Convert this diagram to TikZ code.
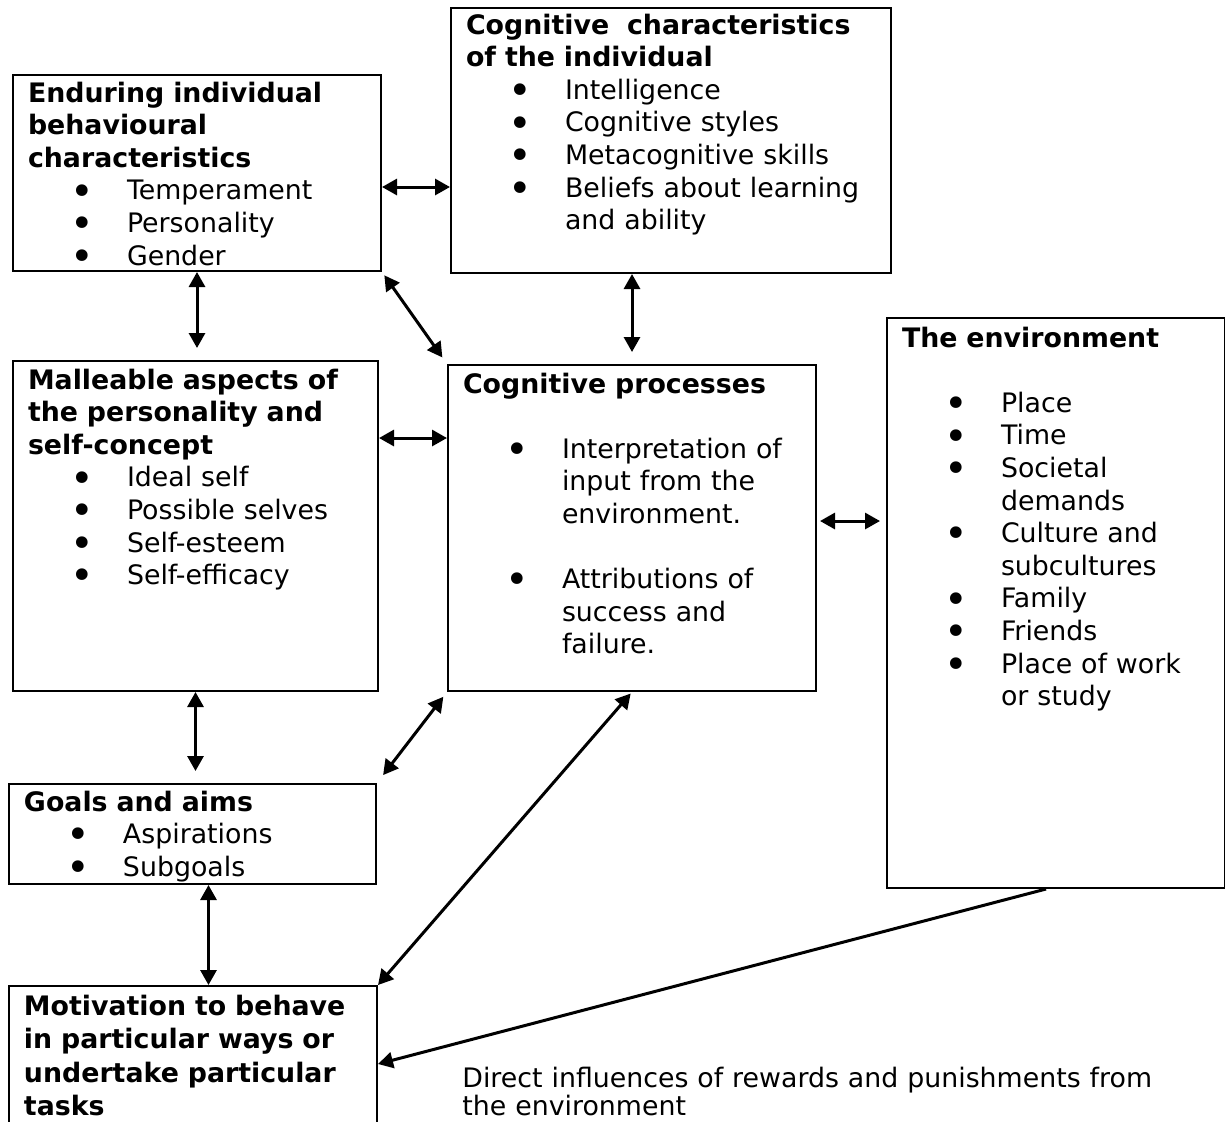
\documentclass[tikz,border=0pt]{standalone}
\usepackage{fontspec}
\setmainfont{DejaVu Sans}
\usetikzlibrary{arrows.meta}

\newcommand{\bul}[1]{\par\hangindent=49.5pt\hangafter=1\noindent\hspace*{21pt}%
  \makebox[28.5pt][l]{\raisebox{-2.6pt}{\fontsize{20}{20}\selectfont\textbullet}}#1\par}
\newcommand{\gap}{\par\vspace{\baselineskip}}

\tikzset{
  box/.style={draw, line width=1pt, anchor=north west, inner xsep=7.5pt, inner ysep=0pt,
    align=left, font=\fontsize{13.4}{16.3}\selectfont},
  link/.style={<->, line width=1.5pt},
}

\begin{document}
\begin{tikzpicture}[x=0.5pt, y=-0.5pt, >={Triangle[length=7.5pt,width=8pt]}]
\useasboundingbox (0,0) rectangle (1225,1121);

% left column
\node[box, text width=169pt, text height=13.5pt, text depth=84.5pt] (endur) at (12,74)
  {\textbf{Enduring individual\\behavioural\\characteristics}
   \bul{Temperament}
   \bul{Personality}
   \bul{Gender}};

\node[box, text width=167.5pt, text height=14pt, text depth=151pt] (malle) at (12,360)
  {\textbf{Malleable aspects of\\the personality and\\self-concept}
   \bul{Ideal self}
   \bul{Possible selves}
   \bul{Self-esteem}
   \bul{Self-efficacy}};

\node[box, text width=168.5pt, text height=13.5pt, text depth=36.5pt] (goals) at (8,783)
  {\textbf{Goals and aims}
   \bul{Aspirations}
   \bul{Subgoals}};

\node[box, text width=169pt, text height=14.5pt, text depth=55.5pt,
  font=\fontsize{13.4}{16.8}\selectfont] (motiv) at (8,985)
  {\textbf{Motivation to behave\\in particular ways or\\undertake particular\\tasks}};

% middle column
\node[box, text width=205pt, text height=13pt, text depth=119.5pt] (cogchar) at (450,7)
  {\textbf{Cognitive\ \ characteristics\\of the individual}
   \bul{Intelligence}
   \bul{Cognitive styles}
   \bul{Metacognitive skills}
   \bul{Beliefs about learning\newline and ability}};

\node[box, text width=169pt, text height=14pt, text depth=149pt] (cogproc) at (447,364)
  {\textbf{Cognitive processes}
   \gap
   \bul{Interpretation of\newline input from the\newline environment.}
   \gap
   \bul{Attributions of\newline success and\newline failure.}};

% right column
\node[box, text width=154pt, text height=14.5pt, text depth=270.5pt] (env) at (886,317)
  {\textbf{The environment}
   \gap
   \bul{Place}
   \bul{Time}
   \bul{Societal\newline demands}
   \bul{Culture and\newline subcultures}
   \bul{Family}
   \bul{Friends}
   \bul{Place of work\newline or study}};

\node[anchor=base west, text width=360pt, inner sep=0pt, align=left,
  font=\fontsize{13.4}{14}\selectfont] (reward) at (462,1087)
  {Direct influences of rewards and punishments from\\the environment};

% links
\draw[link] ([yshift=-7pt]endur.east) -- ([yshift=-7pt]endur.east -| cogchar.west);
\draw[link, shorten >=6pt] (endur.south) -- (endur.south |- malle.north);
\draw[link, shorten <=2pt, shorten >=4pt] (endur.south east) -- (cogproc.north west);
\draw[link, shorten >=6pt] (cogproc.north |- cogchar.south) -- (cogproc.north);
\draw[link] ([yshift=44pt]malle.east) -- ([yshift=44pt]malle.east -| cogproc.west);
\draw[link, shorten <=1.5pt, shorten >=3pt] ([yshift=3.5pt]cogproc.east) -- ([yshift=3.5pt]cogproc.east -| env.west);
\draw[link, shorten >=6pt] (malle.south) -- (malle.south |- goals.north);
\draw[link, shorten <=5pt, shorten >=3pt] (goals.north east) -- (cogproc.south west);
\draw[link] ([xshift=8pt]goals.south) -- ([xshift=8pt]goals.south |- motiv.north);
\draw[link, shorten <=1pt] (cogproc.south) -- (motiv.north east);
\draw[->, line width=1.5pt] ([xshift=-5pt]env.south) -- ([yshift=-4pt]motiv.east);

\end{tikzpicture}
\end{document}
